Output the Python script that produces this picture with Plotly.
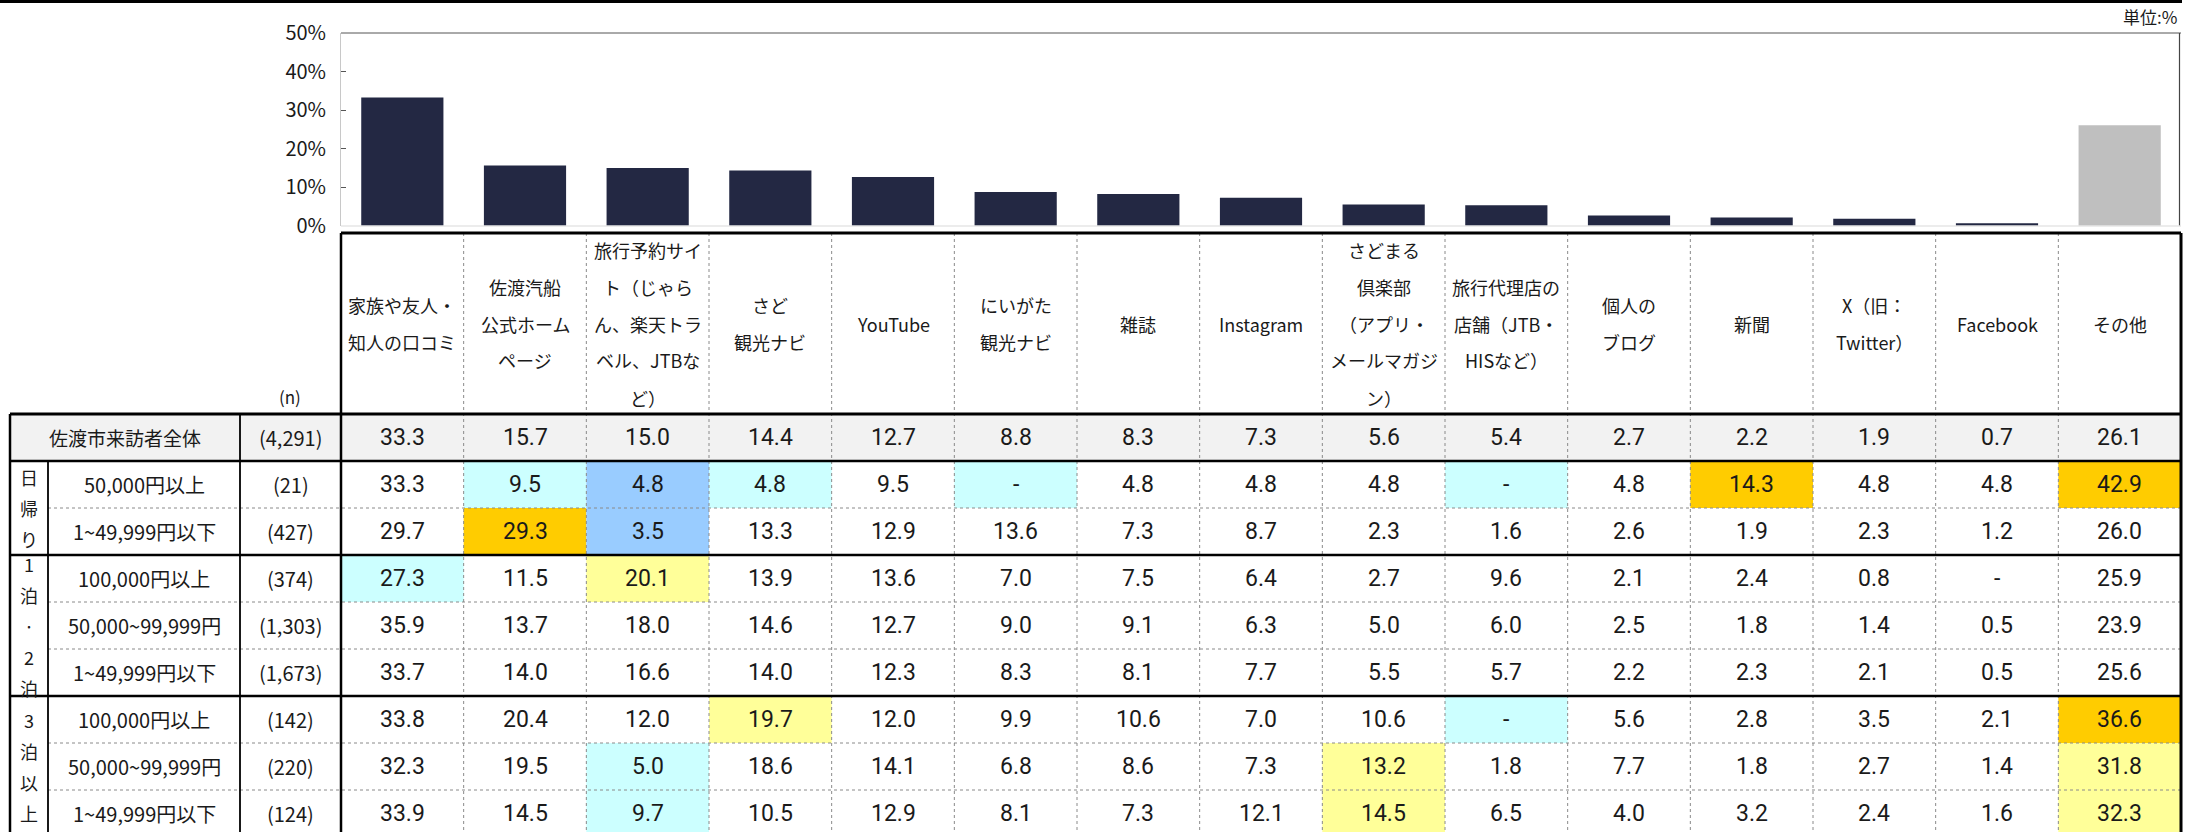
import plotly.graph_objects as go

# ---------------- data ----------------
categories = ["家族や友人・知人の口コミ", "佐渡汽船公式ホームページ", "旅行予約サイト", "さど観光ナビ",
              "YouTube", "にいがた観光ナビ", "雑誌", "Instagram", "さどまる倶楽部",
              "旅行代理店の店舗", "個人のブログ", "新聞", "X（旧：Twitter）", "Facebook", "その他"]
header_lines = [
    ["家族や友人・", "知人の口コミ"],
    ["佐渡汽船", "公式ホーム", "ページ"],
    ["旅行予約サイ", "ト（じゃら", "ん、楽天トラ", "ベル、JTBな", "ど）"],
    ["さど", "観光ナビ"],
    ["YouTube"],
    ["にいがた", "観光ナビ"],
    ["雑誌"],
    ["Instagram"],
    ["さどまる", "倶楽部", "（アプリ・", "メールマガジ", "ン）"],
    ["旅行代理店の", "店舗（JTB・", "HISなど）"],
    ["個人の", "ブログ"],
    ["新聞"],
    ["X（旧：", "Twitter）"],
    ["Facebook"],
    ["その他"],
]
total_label = "佐渡市来訪者全体"
total_n = "(4,291)"
total_values = [33.3, 15.7, 15.0, 14.4, 12.7, 8.8, 8.3, 7.3, 5.6, 5.4, 2.7, 2.2, 1.9, 0.7, 26.1]

group_names = [["日", "帰", "り"], ["1", "泊", "·", "2", "泊"], ["3", "泊", "以", "上"]]
group_sizes = [2, 3, 3]
row_labels = ["50,000円以上", "1~49,999円以下",
              "100,000円以上", "50,000~99,999円", "1~49,999円以下",
              "100,000円以上", "50,000~99,999円", "1~49,999円以下"]
row_n = ["(21)", "(427)", "(374)", "(1,303)", "(1,673)", "(142)", "(220)", "(124)"]
row_values = [
    [33.3, 9.5, 4.8, 4.8, 9.5, None, 4.8, 4.8, 4.8, None, 4.8, 14.3, 4.8, 4.8, 42.9],
    [29.7, 29.3, 3.5, 13.3, 12.9, 13.6, 7.3, 8.7, 2.3, 1.6, 2.6, 1.9, 2.3, 1.2, 26.0],
    [27.3, 11.5, 20.1, 13.9, 13.6, 7.0, 7.5, 6.4, 2.7, 9.6, 2.1, 2.4, 0.8, None, 25.9],
    [35.9, 13.7, 18.0, 14.6, 12.7, 9.0, 9.1, 6.3, 5.0, 6.0, 2.5, 1.8, 1.4, 0.5, 23.9],
    [33.7, 14.0, 16.6, 14.0, 12.3, 8.3, 8.1, 7.7, 5.5, 5.7, 2.2, 2.3, 2.1, 0.5, 25.6],
    [33.8, 20.4, 12.0, 19.7, 12.0, 9.9, 10.6, 7.0, 10.6, None, 5.6, 2.8, 3.5, 2.1, 36.6],
    [32.3, 19.5, 5.0, 18.6, 14.1, 6.8, 8.6, 7.3, 13.2, 1.8, 7.7, 1.8, 2.7, 1.4, 31.8],
    [33.9, 14.5, 9.7, 10.5, 12.9, 8.1, 7.3, 12.1, 14.5, 6.5, 4.0, 3.2, 2.4, 1.6, 32.3],
]
# highlight codes: c = light cyan, b = blue, o = orange, y = yellow
row_marks = [
    ["", "c", "b", "c", "", "c", "", "", "", "c", "", "o", "", "", "o"],
    ["", "o", "b", "", "", "", "", "", "", "", "", "", "", "", ""],
    ["c", "", "y", "", "", "", "", "", "", "", "", "", "", "", ""],
    ["", "", "", "", "", "", "", "", "", "", "", "", "", "", ""],
    ["", "", "", "", "", "", "", "", "", "", "", "", "", "", ""],
    ["", "", "", "y", "", "", "", "", "", "c", "", "", "", "", "o"],
    ["", "", "c", "", "", "", "", "", "y", "", "", "", "", "", "y"],
    ["", "", "c", "", "", "", "", "", "y", "", "", "", "", "", "y"],
]
unit_label = "単位:%"

# ---------------- styling / geometry ----------------
W, H = 2201, 832
JP = "Noto Sans CJK JP, Noto Sans, sans-serif"
NUM = "Roboto, Noto Sans CJK JP, sans-serif"
NAVY = "#232843"
GREY_BAR = "#bfbfbf"
MARK_COLORS = {"c": "#ccffff", "b": "#99ccff", "o": "#ffcc00", "y": "#ffff99"}

X_LEFT, X_RIGHT = 341, 2181
PLOT_TOP, PLOT_BOT = 33, 226
HEAD_TOP, HEAD_BOT = 233, 414
ROW_H = 47
X_TAB_L, X_GRP_R, X_LAB_R = 10, 48, 240
N_ROWS = len(row_values)
TAB_BOT = HEAD_BOT + ROW_H * (N_ROWS + 1)


def px(x):
    return x / W


def py(y):
    return 1 - y / H


fig = go.Figure()
bar_colors = [NAVY] * (len(categories) - 1) + [GREY_BAR]
fig.add_trace(go.Bar(x=categories, y=total_values, marker=dict(color=bar_colors, line=dict(width=0)),
                     width=0.67, hoverinfo="x+y", showlegend=False))

shapes = []
ann = []


def hline(y, x0, x1, color="black", width=2.5, dash="solid", xref="paper"):
    shapes.append(dict(type="line", xref=xref, yref="paper", x0=x0, x1=x1, y0=py(y), y1=py(y),
                       line=dict(color=color, width=width, dash=dash)))


def vline_paper(x, y0, y1, color="black", width=2.5, dash="solid"):
    shapes.append(dict(type="line", xref="paper", yref="paper", x0=px(x), x1=px(x), y0=py(y0), y1=py(y1),
                       line=dict(color=color, width=width, dash=dash)))


def text(x, y, s, size, family=JP, xref="paper", color="#1a1a1a"):
    ann.append(dict(x=x, y=py(y), xref=xref, yref="paper", text=s, showarrow=False,
                    xanchor="center", yanchor="middle", font=dict(size=size, family=family, color=color)))


# cell fills
shapes.append(dict(type="rect", xref="paper", yref="paper", x0=px(X_TAB_L), x1=px(X_RIGHT),
                   y0=py(HEAD_BOT), y1=py(HEAD_BOT + ROW_H), fillcolor="#f2f2f2", line=dict(width=0), layer="below"))
for r, marks in enumerate(row_marks):
    ytop = HEAD_BOT + ROW_H * (r + 1)
    for i, m in enumerate(marks):
        if m:
            shapes.append(dict(type="rect", xref="x", yref="paper", x0=i - 0.5, x1=i + 0.5,
                               y0=py(ytop), y1=py(ytop + ROW_H), fillcolor=MARK_COLORS[m],
                               line=dict(width=0), layer="below"))

# plot frame
hline(1.5, 0, px(2182), width=3)
hline(PLOT_TOP, px(X_LEFT), px(X_RIGHT), color="#555555", width=1)
vline_paper(X_LEFT - 0.5, PLOT_TOP, PLOT_BOT, color="#c8c8c8", width=1)
vline_paper(X_RIGHT - 1.5, PLOT_TOP, PLOT_BOT, color="#444444", width=1.2)
hline(PLOT_BOT, px(X_LEFT), px(X_RIGHT), color="#e6e6e6", width=1.5)

# table grid: dashed column separators
for i in range(1, len(categories)):
    shapes.append(dict(type="line", xref="x", yref="paper", x0=i - 0.5, x1=i - 0.5,
                       y0=py(HEAD_TOP), y1=py(TAB_BOT), line=dict(color="#8a8a8a", width=1, dash="dot")))
# dashed row separators inside groups
start = 0
for g in group_sizes:
    for k in range(1, g):
        y = HEAD_BOT + ROW_H * (1 + start + k)
        hline(y, px(X_GRP_R), px(X_RIGHT), color="#8a8a8a", width=1, dash="dot")
    start += g
# solid lines
hline(HEAD_TOP, px(X_LEFT), px(X_RIGHT), width=3)
hline(HEAD_BOT, px(X_TAB_L), px(X_RIGHT), width=3)
hline(HEAD_BOT + ROW_H, px(X_TAB_L), px(X_RIGHT), width=2.5)
start = 0
for g in group_sizes:
    start += g
    hline(HEAD_BOT + ROW_H * (1 + start), px(X_TAB_L), px(X_RIGHT), width=2.5)
vline_paper(X_TAB_L, HEAD_BOT, TAB_BOT, width=2.5)
vline_paper(X_GRP_R, HEAD_BOT + ROW_H, TAB_BOT, width=1.8)
vline_paper(X_LAB_R, HEAD_BOT, TAB_BOT, width=1.8)
vline_paper(X_LEFT, HEAD_TOP, TAB_BOT, width=2.5)
vline_paper(X_RIGHT, HEAD_TOP, TAB_BOT, width=3)

# header texts
head_mid = (HEAD_TOP + HEAD_BOT) / 2
LINE_SP = 37
for i, lines in enumerate(header_lines):
    n = len(lines)
    for k, s in enumerate(lines):
        text(categories[i], head_mid + (k - (n - 1) / 2) * LINE_SP, s, 18, xref="x")
text(px(290), 396, "(n)", 17)
ann.append(dict(x=px(2179), y=py(17), xref="paper", yref="paper", text=unit_label, showarrow=False,
                xanchor="right", yanchor="middle", font=dict(size=17, family=JP, color="#1a1a1a")))


def fmt(v):
    return "-" if v is None else f"{v:.1f}"


# total row
yc = HEAD_BOT + ROW_H / 2
text(px((X_TAB_L + X_LAB_R) / 2), yc, total_label, 19)
text(px((X_LAB_R + X_LEFT) / 2), yc, total_n, 20)
for i, v in enumerate(total_values):
    text(categories[i], yc, fmt(v), 23, family=NUM, xref="x")

# body rows
for r in range(N_ROWS):
    yc = HEAD_BOT + ROW_H * (r + 1) + ROW_H / 2
    text(px((X_GRP_R + X_LAB_R) / 2), yc, row_labels[r], 20)
    text(px((X_LAB_R + X_LEFT) / 2), yc, row_n[r], 20)
    for i, v in enumerate(row_values[r]):
        text(categories[i], yc, fmt(v), 23, family=NUM, xref="x")

# group labels (vertical)
start = 0
for chars, g in zip(group_names, group_sizes):
    y0 = HEAD_BOT + ROW_H * (1 + start)
    ymid = y0 + g * ROW_H / 2
    n = len(chars)
    for k, ch in enumerate(chars):
        text(px((X_TAB_L + X_GRP_R) / 2), ymid + (k - (n - 1) / 2) * 31, ch, 18)
    start += g

fig.update_layout(
    width=W, height=H, margin=dict(l=0, r=0, t=0, b=0, pad=0, autoexpand=False),
    paper_bgcolor="white", plot_bgcolor="white",
    shapes=shapes, annotations=ann, bargap=0.33,
    xaxis=dict(domain=[px(X_LEFT), px(X_RIGHT)], type="category", range=[-0.5, len(categories) - 0.5],
               showticklabels=False, showgrid=False, zeroline=False, showline=False, ticks="",
               automargin=False),
    yaxis=dict(domain=[py(PLOT_BOT), py(PLOT_TOP)], range=[0, 50], dtick=10, ticksuffix="%",
               showgrid=False, zeroline=False, showline=False, ticks="inside", ticklen=5,
               tickcolor="#555555", tickfont=dict(size=20, family=JP, color="#1a1a1a"),
               ticklabelstandoff=14, automargin=False),
    font=dict(family=JP),
)

fig.write_html("out.html", config={"displayModeBar": False},
               post_script="document.body.style.margin='0';document.body.style.overflow='hidden';")
